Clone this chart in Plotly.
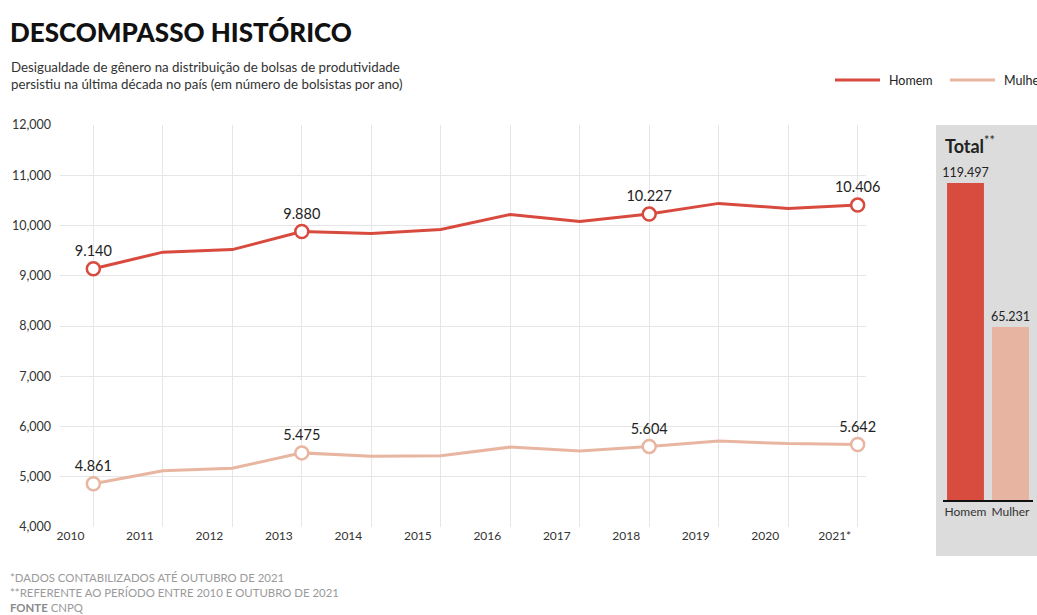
import plotly.graph_objects as go

# ---------------- data ----------------
years = [2010, 2011, 2012, 2013, 2014, 2015, 2016, 2017, 2018, 2019, 2020, 2021]
year_labels = ["2010", "2011", "2012", "2013", "2014", "2015", "2016", "2017",
               "2018", "2019", "2020", "2021*"]
homem = [9140, 9470, 9520, 9880, 9840, 9920, 10220, 10080, 10227, 10440, 10340, 10406]
mulher = [4861, 5120, 5170, 5475, 5410, 5420, 5590, 5510, 5604, 5710, 5660, 5642]
highlight_years = [2010, 2013, 2018, 2021]
y_ticks = [4000, 5000, 6000, 7000, 8000, 9000, 10000, 11000, 12000]

total_cats = ["Homem", "Mulher"]
totals = [119497, 65231]
series_names = ["Homem", "Mulher"]

# ---------------- style ----------------
W, H = 1037, 615
RED = "#d94a3e"
PINK = "#e8b5a1"
BAR_RED = "#d84c40"
BAR_PINK = "#e6b4a1"
FONT = "Lato"


def px(x):
    return x / W


def py(y):
    return (H - y) / H


def fmt(v):
    return f"{v:,}".replace(",", ".")


fig = go.Figure()

# lines
fig.add_trace(go.Scatter(x=years, y=homem, mode="lines", name=series_names[0],
                         line=dict(color=RED, width=3), hoverinfo="skip",
                         showlegend=False))
fig.add_trace(go.Scatter(x=years, y=mulher, mode="lines", name=series_names[1],
                         line=dict(color=PINK, width=3), hoverinfo="skip",
                         showlegend=False))

# highlighted points with labels
for series, col in ((homem, RED), (mulher, PINK)):
    hx = [y for y in years if y in highlight_years]
    hy = [v for y, v in zip(years, series) if y in highlight_years]
    fig.add_trace(go.Scatter(
        x=hx, y=hy, mode="markers+text", showlegend=False,
        marker=dict(size=13, color="white", line=dict(color=col, width=2.5)),
        text=[fmt(v) for v in hy], textposition="top center",
        textfont=dict(family=FONT, size=14.5, color="#222"),
        cliponaxis=False, hoverinfo="skip"))

# totals bars
fig.add_trace(go.Bar(x=total_cats, y=totals, xaxis="x2", yaxis="y2",
                     marker=dict(color=[BAR_RED, BAR_PINK], line=dict(width=0)),
                     text=[fmt(v) for v in totals], textposition="outside",
                     constraintext="none",
                     textfont=dict(family=FONT, size=12.5, color="#222"),
                     cliponaxis=False, showlegend=False, hoverinfo="skip"))

# manual legend (cut at the right edge like the reference)
legend_shapes = []
legend_annots = []
for name, col, x0 in zip(series_names, (RED, PINK), (835, 950)):
    legend_shapes.append(dict(type="line", xref="paper", yref="paper",
                              x0=px(x0), x1=px(x0 + 45), y0=py(80), y1=py(80),
                              line=dict(color=col, width=3)))
    legend_annots.append(dict(text=name, xref="paper", yref="paper",
                              x=px(x0 + 52), y=py(80), xanchor="left",
                              yanchor="middle", showarrow=False,
                              font=dict(family=FONT, size=12.5, color="#222")))

fig.update_layout(
    width=W, height=H,
    margin=dict(l=0, r=0, t=0, b=0, autoexpand=False),
    paper_bgcolor="white", plot_bgcolor="rgba(0,0,0,0)",
    font=dict(family=FONT, size=12, color="#333"),
    bargap=0.18,
    showlegend=False,
    xaxis=dict(
        domain=[px(60), px(866)],
        range=[2009.52, 2021.12],
        tickmode="array",
        tickvals=[y - 0.33 for y in years],
        ticktext=year_labels,
        showgrid=False, zeroline=False, showline=False, ticks="",
        tickfont=dict(family=FONT, size=12, color="#333"),
        minor=dict(tickmode="array", tickvals=years, showgrid=True,
                   gridcolor="#e6e6e6", gridwidth=1, ticks=""),
        fixedrange=True, automargin=False,
    ),
    yaxis=dict(
        domain=[py(527), py(125)],
        range=[4000, 12000],
        tickmode="array", tickvals=y_ticks, tickformat=",",
        showgrid=True, gridcolor="#e6e6e6", gridwidth=1,
        zeroline=False, showline=False, ticks="",
        ticklabelstandoff=8,
        tickfont=dict(family=FONT, size=12.5, color="#333"),
        fixedrange=True, automargin=False,
    ),
    xaxis2=dict(
        domain=[px(943), px(1033)], anchor="y2",
        showgrid=False, zeroline=False, showline=True, linecolor="#111",
        linewidth=2, ticks="", tickangle=0,
        tickfont=dict(family=FONT, size=12, color="#333"),
        fixedrange=True, automargin=False,
    ),
    yaxis2=dict(
        domain=[py(500), py(125)], anchor="x2",
        range=[0, 141400], visible=False, fixedrange=True,
    ),
    shapes=[dict(type="rect", xref="paper", yref="paper",
                 x0=px(936), x1=1.01, y0=py(556), y1=py(125),
                 fillcolor="#dcdcdc", line=dict(width=0), layer="below")]
    + legend_shapes,
    annotations=[
        dict(text="DESCOMPASSO HISTÓRICO", xref="paper", yref="paper",
             x=px(8), y=py(14), xanchor="left", yanchor="top", showarrow=False,
             font=dict(family="Lato", size=26, weight=900, color="#111")),
        dict(text="Desigualdade de gênero na distribuição de bolsas de produtividade<br>"
                  "persistiu na última década no país (em número de bolsistas por ano)",
             xref="paper", yref="paper", x=px(9), y=py(57), xanchor="left",
             yanchor="top", align="left", showarrow=False,
             font=dict(family=FONT, size=13.3, color="#333")),
        dict(text="<b>Total</b><sup>**</sup>", xref="paper", yref="paper",
             x=px(943), y=py(145), xanchor="left", yanchor="middle",
             showarrow=False, font=dict(family=FONT, size=18, color="#222")),
        dict(text="*DADOS CONTABILIZADOS ATÉ OUTUBRO DE 2021<br>"
                  "**REFERENTE AO PERÍODO ENTRE 2010 E OUTUBRO DE 2021<br>"
                  "<b><span style='color:#8a8a8a'>FONTE</span></b> CNPQ",
             xref="paper", yref="paper", x=px(8), y=py(569), xanchor="left",
             yanchor="top", align="left", showarrow=False,
             font=dict(family=FONT, size=11.4, color="#9a9a9a")),
    ] + legend_annots,
)

fig.write_html("out.html",
               config={"displayModeBar": False, "staticPlot": True},
               post_script="document.body.style.margin='0';"
                           "document.body.style.overflow='hidden';")
